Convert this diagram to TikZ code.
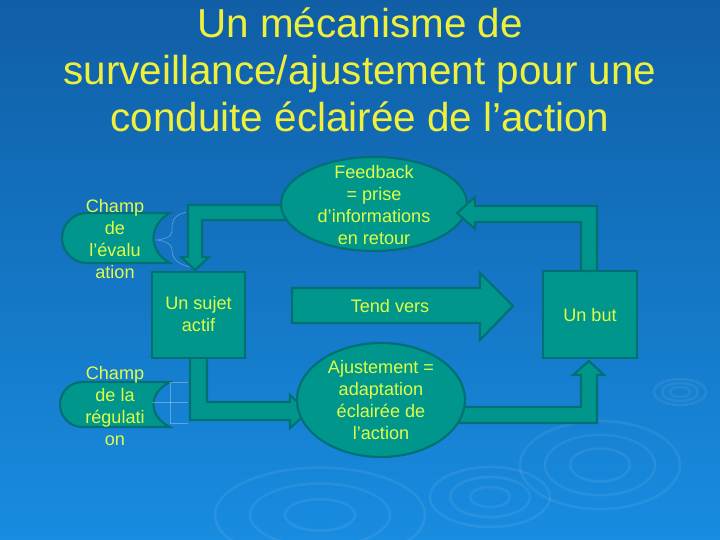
\documentclass[tikz,border=0pt]{standalone}
\usepackage{fontspec}
\setmainfont{Liberation Sans}
\usetikzlibrary{shapes.geometric}

\definecolor{bgtop}{RGB}{16,94,166}
\definecolor{bgbottom}{RGB}{24,140,224}
\definecolor{teal}{RGB}{0,150,140}
\definecolor{tealdark}{RGB}{0,112,116}
\definecolor{titleyellow}{RGB}{238,240,60}
\definecolor{textyellow}{RGB}{222,255,70}

\begin{document}
\begin{tikzpicture}[x=0.02cm, y=-0.02cm, line join=miter]
    \tikzstyle{block}=[draw=tealdark, fill=teal, line width=1.2pt]
    \tikzstyle{boxnode}=[block, rectangle, inner sep=0pt]
    \tikzstyle{bubble}=[block, ellipse, inner sep=0pt]
    \tikzstyle{label}=[text=textyellow, align=center, font=\fontsize{10.3}{12.5}\selectfont]
    \tikzstyle{ripple}=[draw=white, opacity=0.07, line width=1.5pt]
    \tikzstyle{faint}=[draw=white, opacity=0.3, line width=0.4pt]

    % Background
    \shade[top color=bgtop, bottom color=bgbottom] (0,0) rectangle (720,540);
    \useasboundingbox (0,0) rectangle (720,540);

    % Ripples in the background
    \foreach \r in {10,18,26}
        \path[ripple] (680,392) ellipse [x radius=\r, y radius=0.5*\r];
    \foreach \r in {35,70,105}
        \path[ripple] (320,515) ellipse [x radius=\r, y radius=0.45*\r];
    \foreach \r in {20,40,60}
        \path[ripple] (490,497) ellipse [x radius=\r, y radius=0.5*\r];
    \foreach \r in {30,55,80}
        \path[ripple] (600,465) ellipse [x radius=\r, y radius=0.55*\r];

    % Title
    \node[text=titleyellow, align=center, font=\fontsize{23}{26.7}\selectfont] (title) at (360,70)
        {Un mécanisme de\\surveillance/ajustement pour une\\conduite éclairée de l’action};

    % Champs on the left
    \path[block] (87,213) -- (170,213) .. controls (148,225) and (148,251) .. (170,263)
        -- (87,263) .. controls (73.2,263) and (62,251.8) .. (62,238)
        .. controls (62,224.2) and (73.2,213) .. (87,213) -- cycle;
    \path[block] (82.5,382) -- (170,382) .. controls (148,393) and (148,416) .. (170,427)
        -- (82.5,427) .. controls (70,427) and (60,417) .. (60,404.5)
        .. controls (60,392) and (70,382) .. (82.5,382) -- cycle;
    \node[label] (eval) at (115,239) {Champ\\de\\l’évalu\\ation};
    \node[label] (regul) at (115,406) {Champ\\de la\\régulati\\on};
    \draw[faint] (186,212) .. controls (172,216) and (172,222) .. (172,232)
        .. controls (172,237) and (162,240) .. (155,240)
        .. controls (162,240) and (172,243) .. (172,250)
        .. controls (172,260) and (180,266) .. (196,268);
    \draw[faint] (188,382) -- (170,382) -- (170,423) -- (188,423);
    \draw[faint] (152,402) -- (188,402);

    % Arrows lying under the shapes
    \path[block] (290,205) -- (188,205) -- (188,257) -- (181,257) -- (195,270)
        -- (209,257) -- (202,257) -- (202,220) -- (290,220) -- cycle;
    \path[block] (455,407) -- (581,407) -- (581,375) -- (573,375) -- (589,361)
        -- (604,375) -- (597,375) -- (597,423) -- (455,423) -- cycle;
    \path[block] (190,350) -- (190,420) -- (290,420) -- (290,428) -- (308,412)
        -- (290,395) -- (290,402) -- (207,402) -- (207,350) -- cycle;

    % Boxes and bubbles
    \node[boxnode, minimum width=1.86cm, minimum height=1.72cm] (sujet) at (198.5,315) {};
    \node[label] (sujettext) at (198.5,314) {Un sujet\\actif};
    \node[boxnode, minimum width=1.88cm, minimum height=1.74cm] (but) at (590,314.5) {};
    \node[label] (buttext) at (590,315) {Un but};
    \node[bubble, minimum width=3.72cm, minimum height=1.88cm] (feedback) at (374,204) {};
    \node[label] (feedbacktext) at (374,205)
        {Feedback\\= prise\\d’informations\\en retour};
    \node[bubble, minimum width=3.36cm, minimum height=2.28cm] (ajust) at (381,400) {};
    \node[label] (ajusttext) at (381,400)
        {Ajustement =\\adaptation\\éclairée de\\l’action};

    % Arrows lying over the shapes
    \path[block] (581,271) -- (581,222) -- (475,222) -- (475,229) -- (457,213)
        -- (475,197) -- (475,206) -- (597,206) -- (597,271) -- cycle;
    \path[block] (292,288) -- (480,288) -- (480,273) -- (513,306) -- (480,340)
        -- (480,323) -- (292,323) -- cycle;
    \node[label] (tend) at (390,306) {Tend vers};
\end{tikzpicture}
\end{document}
